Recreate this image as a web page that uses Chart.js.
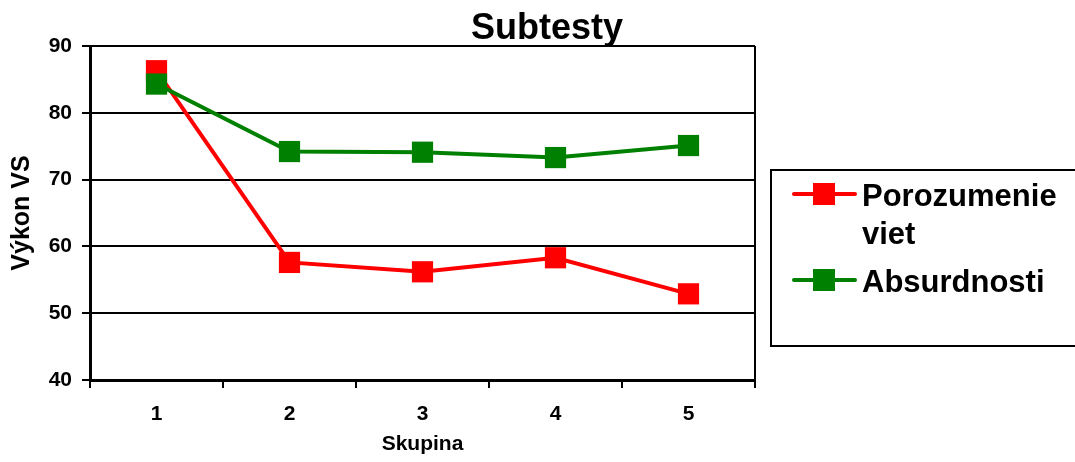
<!DOCTYPE html>
<html>
<head>
<meta charset="utf-8">
<title>Subtesty</title>
<script src="https://cdn.jsdelivr.net/npm/chart.js@4/dist/chart.umd.min.js"></script>
<style>
  html, body { margin: 0; padding: 0; background: #ffffff; }
  #wrap { width: 1075px; height: 462px; }
</style>
</head>
<body>
<div id="wrap"><canvas id="chart" width="1075" height="462"></canvas></div>
<script>
// Groups (Skupina) and mean scores per subtest
const categories = ['1', '2', '3', '4', '5'];
const porozumenieViet = [86.3, 57.6, 56.2, 58.3, 52.9];
const absurdnosti = [84.3, 74.2, 74.1, 73.3, 75.1];
const seriesNames = ['Porozumenie viet', 'Absurdnosti'];
const yTicks = { min: 40, max: 90, step: 10 };
const chartTitle = 'Subtesty';
const yTitle = 'Výkon VS';
const xTitle = 'Skupina';

const FONT = '"Liberation Sans", Arial, Helvetica, sans-serif';

// Title, right frame edge and boxed legend drawn on the canvas
const decorations = {
  id: 'decorations',
  afterDraw(chart) {
    const ctx = chart.ctx;
    const area = chart.chartArea;
    ctx.save();

    // right edge of the plot frame
    ctx.strokeStyle = '#000';
    ctx.lineWidth = 2;
    ctx.beginPath();
    ctx.moveTo(area.right, area.top);
    ctx.lineTo(area.right, area.bottom);
    ctx.stroke();

    // title
    ctx.fillStyle = '#000';
    ctx.font = 'bold 36px ' + FONT;
    ctx.textAlign = 'center';
    ctx.textBaseline = 'alphabetic';
    ctx.fillText(chartTitle, 547, 39);

    // legend box
    ctx.lineWidth = 2;
    ctx.strokeStyle = '#000';
    ctx.strokeRect(771, 170, 320, 176);

    ctx.font = 'bold 31px ' + FONT;
    ctx.textAlign = 'left';
    const lineH = 38;
    let baseline = 206;
    chart.data.datasets.forEach(ds => {
      // word-wrap the label to the legend width
      const words = ds.label.split(' ');
      const lines = [];
      let cur = '';
      words.forEach(w => {
        const test = cur ? cur + ' ' + w : w;
        if (cur && ctx.measureText(test).width > 208) {
          lines.push(cur);
          cur = w;
        } else {
          cur = test;
        }
      });
      if (cur) lines.push(cur);

      const sy = baseline - 12;
      ctx.strokeStyle = ds.borderColor;
      ctx.lineWidth = 4;
      ctx.lineCap = 'round';
      ctx.beginPath();
      ctx.moveTo(794, sy);
      ctx.lineTo(855, sy);
      ctx.stroke();
      ctx.fillStyle = ds.backgroundColor;
      ctx.fillRect(824 - 11, sy - 11, 22, 22);

      ctx.fillStyle = '#000';
      lines.forEach((ln, i) => ctx.fillText(ln, 862, baseline + i * lineH));
      baseline += lines.length * lineH + 10;
    });

    ctx.restore();
  }
};

new Chart(document.getElementById('chart'), {
  type: 'line',
  data: {
    labels: categories,
    datasets: [
      {
        label: seriesNames[0],
        data: porozumenieViet,
        borderColor: '#ff0000',
        backgroundColor: '#ff0000',
        borderWidth: 4,
        pointStyle: 'rect',
        pointRadius: 15,
        pointHoverRadius: 15,
        pointBorderWidth: 0,
        tension: 0,
        order: 1
      },
      {
        label: seriesNames[1],
        data: absurdnosti,
        borderColor: '#008000',
        backgroundColor: '#008000',
        borderWidth: 4,
        pointStyle: 'rect',
        pointRadius: 15,
        pointHoverRadius: 15,
        pointBorderWidth: 0,
        tension: 0,
        order: 0
      }
    ]
  },
  options: {
    responsive: false,
    animation: false,
    events: [],
    layout: { padding: { left: 0, right: 320, top: 46, bottom: 0 } },
    plugins: {
      legend: { display: false },
      title: { display: false },
      tooltip: { enabled: false }
    },
    scales: {
      x: {
        type: 'category',
        offset: true,
        afterFit(scale) { scale.height = 82; },
        grid: {
          offset: true,
          drawOnChartArea: false,
          drawTicks: true,
          tickLength: 8,
          color: '#000',
          lineWidth: 2
        },
        border: { display: true, color: '#000', width: 3 },
        ticks: {
          color: '#000',
          padding: 14,
          maxRotation: 0,
          font: { family: FONT, size: 21, weight: 'bold' }
        },
        title: {
          display: true,
          text: xTitle,
          color: '#000',
          padding: { top: 0, bottom: 5 },
          font: { family: FONT, size: 21, weight: 'bold' }
        }
      },
      y: {
        min: yTicks.min,
        max: yTicks.max,
        afterFit(scale) { scale.width = 90; },
        grid: {
          color: '#000',
          lineWidth: 2,
          tickLength: 8
        },
        border: { display: true, color: '#000', width: 3 },
        ticks: {
          stepSize: yTicks.step,
          color: '#000',
          padding: 10,
          font: { family: FONT, size: 21, weight: 'bold' }
        },
        title: {
          display: true,
          text: yTitle,
          color: '#000',
          padding: { top: 7, bottom: 0 },
          font: { family: FONT, size: 25, weight: 'bold' }
        }
      }
    }
  },
  plugins: [decorations]
});
</script>
</body>
</html>
